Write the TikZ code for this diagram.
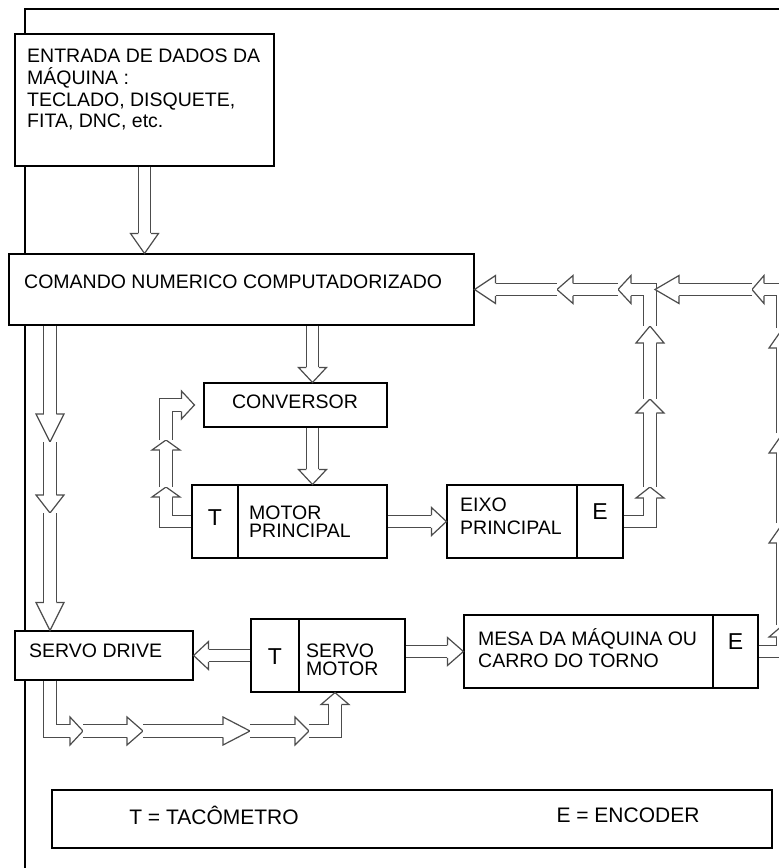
\documentclass[tikz,border=0pt]{standalone}
\usepackage{fontspec}
\setmainfont{Liberation Sans}
\usetikzlibrary{positioning,decorations.markings}

\begin{document}
\begin{tikzpicture}[x=1pt,y=-1pt,
  box/.style={draw,fill=white,line width=1.1pt,inner sep=0pt},
  txt/.style={inner sep=0pt,align=left,font=\fontsize{19.5}{21.7}\selectfont},
  big/.style={inner sep=0pt,font=\fontsize{23}{23}\selectfont},
  hollow/.style={draw=black!70,line width=1.2pt,double=white,double distance=11.3pt,
    line join=miter,shorten >=#1,
    postaction={decorate,decoration={markings,mark=at position 1 with {
      \draw[black!70,line width=1.2pt,fill=white,line join=miter,shorten >=0pt]
        (-#1,6.25pt) -- (-#1,14pt) -- (0pt,0pt) -- (-#1,-14pt) -- (-#1,-6.25pt);}}}},
  hollow/.default=20pt]

\useasboundingbox (0,0) rectangle (779,868);
\clip (0,0) rectangle (779,868);

\draw[line width=1.4pt] (25,868) -- (25,9) -- (779,9);

% blocos
\node[box,minimum width=259pt,minimum height=132pt] (entrada) at (144.5,100) {};
\node[box,minimum width=465pt,minimum height=71pt] (cnc) at (241.5,289.5) {};
\node[box,minimum width=183pt,minimum height=44pt] (conv) at (295.5,405) {};
\node[box,minimum width=46pt,minimum height=73pt] (motort) at (215,521.5) {};
\node[box,minimum width=149pt,minimum height=73pt] (motor) at (312.5,521.5) {};
\node[box,minimum width=130pt,minimum height=73pt] (eixo) at (512,521.5) {};
\node[box,minimum width=46pt,minimum height=73pt] (eixoe) at (600,521.5) {};
\node[box,minimum width=178pt,minimum height=49pt] (drive) at (104,655.5) {};
\node[box,minimum width=48pt,minimum height=73pt] (servot) at (275,655.5) {};
\node[box,minimum width=106pt,minimum height=73pt] (servo) at (352,655.5) {};
\node[box,minimum width=249pt,minimum height=73pt] (mesa) at (588.5,651.5) {};
\node[box,minimum width=45pt,minimum height=73pt] (mesae) at (735.5,651.5) {};
\node[box,minimum width=720pt,minimum height=58pt] (legenda) at (412,819) {};

% textos
\node[txt,anchor=north west] (entradatxt) at (27,49) {ENTRADA DE DADOS DA\\M\'AQUINA :\\TECLADO, DISQUETE,\\FITA, DNC, etc.};
\node[txt,anchor=west] (cnctxt) at (24,282) {COMANDO NUMERICO COMPUTADORIZADO};
\node[txt] (convtxt) at (295,402) {CONVERSOR};
\node[big] (motortT) at (215,518) {T};
\node[txt,anchor=west,font=\fontsize{19.5}{18}\selectfont] (motortxt) at (249,522) {MOTOR\\PRINCIPAL};
\node[txt,anchor=west,font=\fontsize{19.5}{23}\selectfont] (eixotxt) at (460,516.5) {EIXO\\PRINCIPAL};
\node[big] (eixoE) at (600,512) {E};
\node[txt,anchor=west] (drivetxt) at (29,651) {SERVO DRIVE};
\node[big] (servoT) at (275,657) {T};
\node[txt,anchor=west,font=\fontsize{19.5}{18}\selectfont] (servotxt) at (306,659.5) {SERVO\\MOTOR};
\node[txt,anchor=west,font=\fontsize{19.5}{22}\selectfont] (mesatxt) at (478,648) {MESA DA M\'AQUINA OU\\CARRO DO TORNO};
\node[big] (mesaE) at (735.5,642) {E};
\node[txt,font=\fontsize{21}{21}\selectfont] (legT) at (214,815) {T = TAC\^OMETRO};
\node[txt,font=\fontsize{21}{21}\selectfont] (legE) at (628,815) {E = ENCODER};

% pontos de passagem
\coordinate (l1) at (50,442);
\coordinate (l2) at (50,513);
\coordinate (b1) at (83,731);
\coordinate (b2) at (143,731);
\coordinate (b3) at (250,731);
\coordinate (b4) at (309,731);
\coordinate (t1) at (166,487);
\coordinate (t2) at (166,440);
\coordinate (e1) at (650,487);
\coordinate (e2) at (650,399);
\coordinate (e3) at (650,326);
\coordinate (h1) at (557,289.5);
\coordinate (h2) at (618,289.5);
\coordinate (h3) at (655,289.5);
\coordinate (h4) at (752,289.5);
\coordinate (r1) at (783,625);
\coordinate (r2) at (783,523);
\coordinate (r3) at (783,433);
\coordinate (r4) at (783,328);

% setas
\draw[hollow] (entrada.south) -- (entrada.south |- cnc.north);
\draw[hollow=15pt] (cnc.south -| motor.north) -- (conv.north -| motor.north);
\draw[hollow=15pt] (conv.south -| motor.north) -- (motor.north);
\draw[hollow=15pt] (motor.east) -- (eixo.west);
\draw[hollow=28pt] (cnc.south -| l1) -- (l1);
\draw[hollow=18pt] (l1) -- (l2);
\draw[hollow=28pt] (l2) -- (drive.north -| l2);
\draw[hollow=15pt] (servot.west) -- (drive.east);
\draw[hollow=16pt] (servo.east |- mesa.west) -- (mesa.west);
\draw[hollow=13pt] (drive.south -| l1) |- (b1);
\draw[hollow=16pt] (b1) -- (b2);
\draw[hollow=27pt] (b2) -- (b3);
\draw[hollow=14pt] (b3) -- (b4);
\draw[hollow=12pt] (b4) -| ([xshift=-17pt]servo.south);
\draw[hollow=10pt] (motort.west) -| (t1);
\draw[hollow=10pt] (t1) -- (t2);
\draw[hollow=13pt] (t2) |- ([xshift=-9pt]conv.west);
\draw[hollow=11pt] (eixoe.east) -| (e1);
\draw[hollow=14pt] (e1) -- (e2);
\draw[hollow=17pt] (e2) -- (e3);
\draw[hollow=13pt] (e3) |- (h2);
\draw[hollow=16pt] (h2) -- (h1);
\draw[hollow=21pt] (h1) -- (cnc.east);
\draw[hollow=12pt] (mesae.east) -| (r1);
\draw[hollow] (r1) -- (r2);
\draw[hollow] (r2) -- (r3);
\draw[hollow] (r3) -- (r4);
\draw[hollow=12pt] (r4) |- (h4);
\draw[hollow=24pt] (h4) -- (h3);
\end{tikzpicture}
\end{document}
